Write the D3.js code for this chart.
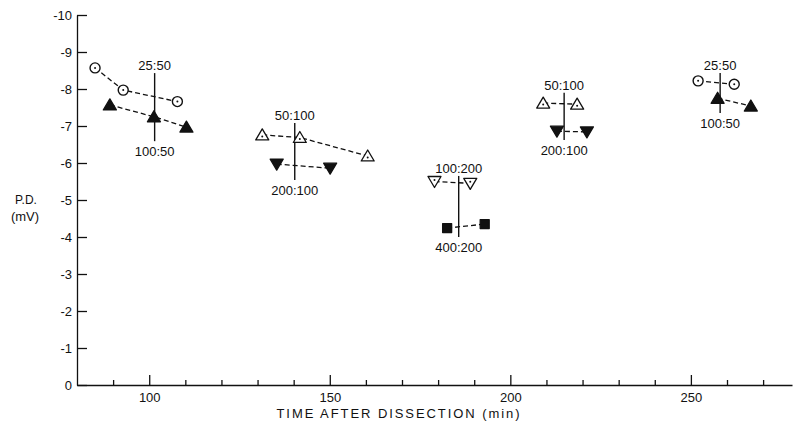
<!DOCTYPE html>
<html>
<head>
<meta charset="utf-8">
<script src="https://cdn.jsdelivr.net/npm/d3@7"></script>
<style>
  body { margin: 0; background: #fff; }
  text { font-family: "Liberation Sans", Arial, sans-serif; fill: #111; }
  .axis path, .axis line { stroke: #111; stroke-width: 1.3; }
  .axis text { font-size: 13px; font-family: "Liberation Sans", Arial, sans-serif; fill: #111; }
</style>
</head>
<body>
<div id="chart"></div>
<script>
let w = 794;
let h = 424;

// marker series: [time (min), P.D. (mV)]
const open25_50_early  = [[85.0, -8.57], [92.8, -7.97], [107.8, -7.66]];
const fill100_50_early = [[89.1, -7.57], [101.3, -7.25], [110.3, -6.97]];
const open50_100_a     = [[131.3, -6.76], [141.7, -6.69], [160.5, -6.19]];
const fill200_100_a    = [[135.3, -5.97], [150.1, -5.86]];
const open100_200      = [[179.0, -5.50], [188.9, -5.45]];
const fill400_200      = [[182.5, -4.24], [192.9, -4.35]];
const open50_100_b     = [[209.1, -7.62], [218.5, -7.59]];
const fill200_100_b    = [[212.9, -6.86], [221.2, -6.84]];
const open25_50_late   = [[252.0, -8.22], [262.0, -8.13]];
const fill100_50_late  = [[257.4, -7.75], [266.6, -7.54]];

// solution changes (vertical bars with ratio labels)
const changeTimes  = [101.5, 140.3, 185.7, 214.9, 258.1];
const changeTop    = [-8.43, -7.08, -5.65, -7.90, -8.43];
const changeBottom = [-6.59, -5.54, -4.00, -6.62, -7.35];
const upperLabels  = ["25:50", "50:100", "100:200", "50:100", "25:50"];
const lowerLabels  = ["100:50", "200:100", "400:200", "200:100", "100:50"];

// axis ticks
const yTicks = [0, -1, -2, -3, -4, -5, -6, -7, -8, -9, -10];
const xMajor = [100, 150, 200, 250];
const xMinor = [90, 110, 120, 130, 140, 160, 170, 180, 190, 210, 220, 230, 240, 260, 270];

// symbol for each series
const series = [
    {data: open25_50_early,  sym: "circle"},
    {data: fill100_50_early, sym: "triUpFill"},
    {data: open50_100_a,     sym: "triUpOpen"},
    {data: fill200_100_a,    sym: "triDownFill"},
    {data: open100_200,      sym: "triDownOpen"},
    {data: fill400_200,      sym: "square"},
    {data: open50_100_b,     sym: "triUpOpen"},
    {data: fill200_100_b,    sym: "triDownFill"},
    {data: open25_50_late,   sym: "circle"},
    {data: fill100_50_late,  sym: "triUpFill"}
];

let svg = d3.select("#chart")
    .append("svg")
    .attr("width", w)
    .attr("height", h)
    .style("background", "#fff");

let xScale = d3.scaleLinear()
    .domain([80, 278])
    .range([77, 792]);

let yScale = d3.scaleLinear()
    .domain([0, -10])
    .range([385, 15]);

// axes
svg.append("g")
    .attr("class", "axis")
    .attr("transform", "translate(77,0)")
    .call(d3.axisLeft(yScale)
        .tickValues(yTicks)
        .tickFormat(d => String(d))
        .tickSizeInner(-10)
        .tickSizeOuter(0)
        .tickPadding(5));

svg.append("g")
    .attr("class", "axis")
    .attr("transform", "translate(0,385)")
    .call(d3.axisBottom(xScale)
        .tickValues(xMajor)
        .tickFormat(d3.format("d"))
        .tickSizeInner(-10)
        .tickSizeOuter(0)
        .tickPadding(8));

svg.append("g")
    .attr("class", "axis minor")
    .attr("transform", "translate(0,385)")
    .call(d3.axisBottom(xScale)
        .tickValues(xMinor)
        .tickFormat("")
        .tickSizeInner(-5)
        .tickSizeOuter(0))
    .select(".domain").remove();

// axis titles
svg.append("text")
    .attr("x", 398)
    .attr("y", 418)
    .attr("text-anchor", "middle")
    .attr("textLength", 243)
    .attr("lengthAdjust", "spacing")
    .style("font-size", "13px")
    .text("TIME AFTER DISSECTION (min)");

svg.append("text")
    .attr("x", 26)
    .attr("y", 204)
    .attr("text-anchor", "middle")
    .style("font-size", "12px")
    .text("P.D.");

svg.append("text")
    .attr("x", 25)
    .attr("y", 221)
    .attr("text-anchor", "middle")
    .style("font-size", "13px")
    .text("(mV)");

// vertical change bars + labels
let changes = changeTimes.map((t, i) => ({
    t: t, top: changeTop[i], bottom: changeBottom[i],
    up: upperLabels[i], low: lowerLabels[i]
}));

svg.selectAll(".change")
    .data(changes)
    .enter()
    .append("line")
    .attr("class", "change")
    .attr("x1", d => xScale(d.t))
    .attr("x2", d => xScale(d.t))
    .attr("y1", d => yScale(d.top))
    .attr("y2", d => yScale(d.bottom))
    .style("stroke", "#111")
    .style("stroke-width", 1.4);

svg.selectAll(".upLabel")
    .data(changes)
    .enter()
    .append("text")
    .attr("class", "upLabel")
    .attr("x", d => xScale(d.t))
    .attr("y", d => yScale(d.top) - 3)
    .attr("text-anchor", "middle")
    .style("font-size", "13px")
    .text(d => d.up);

svg.selectAll(".lowLabel")
    .data(changes)
    .enter()
    .append("text")
    .attr("class", "lowLabel")
    .attr("x", d => xScale(d.t))
    .attr("y", d => yScale(d.bottom) + 15)
    .attr("text-anchor", "middle")
    .style("font-size", "13px")
    .text(d => d.low);

// dashed connecting lines
let line = d3.line()
    .x(d => xScale(d[0]))
    .y(d => yScale(d[1]));

svg.selectAll(".conn")
    .data(series)
    .enter()
    .append("path")
    .attr("class", "conn")
    .attr("d", d => line(d.data))
    .style("fill", "none")
    .style("stroke", "#111")
    .style("stroke-width", 1.3)
    .style("stroke-dasharray", "5,3");

// markers
function symbolPath(sym) {
    if (sym == "square") return "M-4.5,-4.5H4.5V4.5H-4.5Z";
    if (sym == "triUpFill" || sym == "triUpOpen") return "M0,-6L6.5,5H-6.5Z";
    if (sym == "triDownFill" || sym == "triDownOpen") return "M0,6L6.5,-5H-6.5Z";
    return null;
}

series.forEach(s => {
    let g = svg.append("g");
    let pts = g.selectAll("g")
        .data(s.data)
        .enter()
        .append("g")
        .attr("transform", d => "translate(" + xScale(d[0]) + "," + yScale(d[1]) + ")");

    let open = (s.sym == "circle" || s.sym == "triUpOpen" || s.sym == "triDownOpen");
    if (s.sym == "circle") {
        pts.append("circle")
            .attr("r", 5)
            .style("fill", "#fff")
            .style("stroke", "#111")
            .style("stroke-width", 1.4);
    } else {
        pts.append("path")
            .attr("d", symbolPath(s.sym))
            .style("fill", open ? "#fff" : "#111")
            .style("stroke", "#111")
            .style("stroke-width", 1.3)
            .style("stroke-linejoin", "round");
    }
    if (open) {
        let dy = s.sym == "triUpOpen" ? 1.5 : (s.sym == "triDownOpen" ? -1.5 : 0);
        pts.append("circle")
            .attr("cy", dy)
            .attr("r", 1)
            .style("fill", "#111");
    }
});
</script>
</body>
</html>
